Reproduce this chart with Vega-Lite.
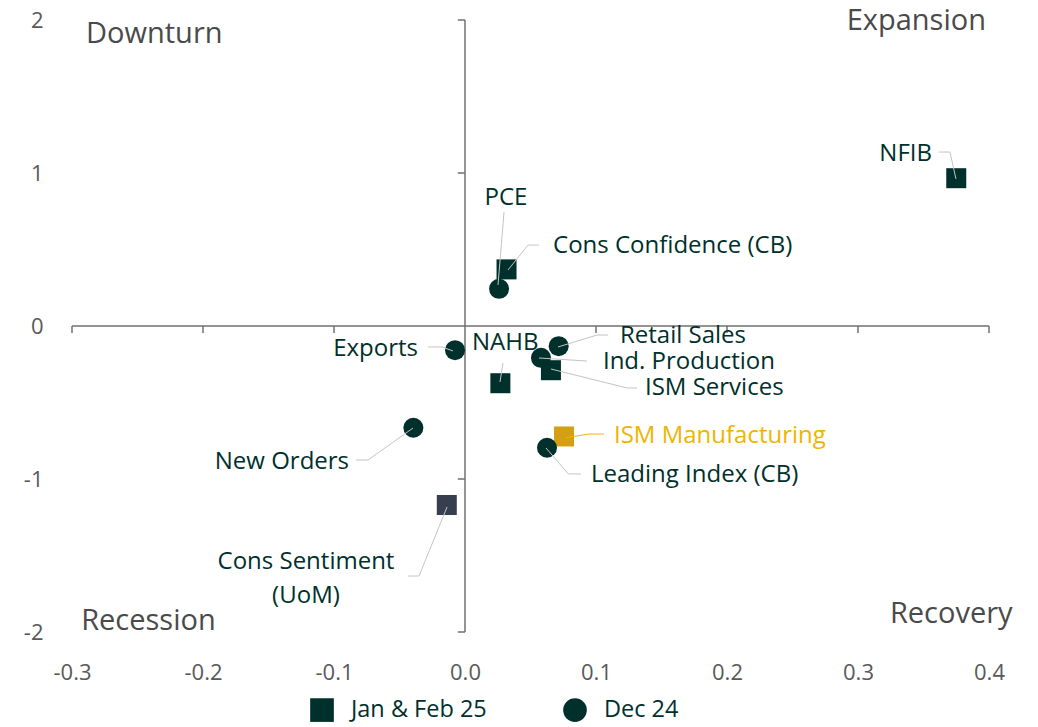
{
  "$schema": "https://vega.github.io/schema/vega-lite/v6.json",
  "width": 917,
  "height": 612,
  "autosize": {"type": "none"},
  "padding": {"left": 72, "top": 20, "right": 49, "bottom": 95},
  "background": "white",
  "config": {
    "view": {"stroke": null},
    "font": "Open Sans"
  },
  "datasets": {
    "points": [
      {"name": "NFIB", "label": "NFIB", "period": "Jan & Feb 25", "x": 0.375, "y": 0.966, "lx": 0.3565, "ly": 1.124},
      {"name": "Cons Confidence (CB)", "label": "Cons Confidence (CB)", "period": "Jan & Feb 25", "x": 0.0317, "y": 0.37, "lx": 0.0672, "ly": 0.523},
      {"name": "NAHB", "label": "NAHB", "period": "Jan & Feb 25", "x": 0.027, "y": -0.374, "lx": 0.0053, "ly": -0.111},
      {"name": "ISM Services", "label": "ISM Services", "period": "Jan & Feb 25", "x": 0.0656, "y": -0.289, "lx": 0.1374, "ly": -0.405},
      {"name": "ISM Manufacturing", "label": "ISM Manufacturing", "period": "Jan & Feb 25", "x": 0.0756, "y": -0.722, "lx": 0.1137, "ly": -0.719},
      {"name": "Cons Sentiment (UoM)", "label": "Cons Sentiment\n(UoM)", "period": "Jan & Feb 25", "x": -0.0139, "y": -1.17, "lx": -0.1214, "ly": -1.542},
      {"name": "PCE", "label": "PCE", "period": "Dec 24", "x": 0.026, "y": 0.243, "lx": 0.0313, "ly": 0.837},
      {"name": "Exports", "label": "Exports", "period": "Dec 24", "x": -0.0076, "y": -0.158, "lx": -0.0359, "ly": -0.15},
      {"name": "Retail Sales", "label": "Retail Sales", "period": "Dec 24", "x": 0.0715, "y": -0.132, "lx": 0.1183, "ly": -0.068},
      {"name": "Ind. Production", "label": "Ind. Production", "period": "Dec 24", "x": 0.058, "y": -0.208, "lx": 0.1053, "ly": -0.235},
      {"name": "Leading Index (CB)", "label": "Leading Index (CB)", "period": "Dec 24", "x": 0.0626, "y": -0.796, "lx": 0.0962, "ly": -0.974},
      {"name": "New Orders", "label": "New Orders", "period": "Dec 24", "x": -0.0394, "y": -0.665, "lx": -0.0885, "ly": -0.889}
    ],
    "leaders": [
      {"name": "NFIB", "x": 0.3618, "y": 1.137, "x2": 0.3702, "y2": 1.137},
      {"name": "NFIB", "x": 0.3702, "y": 1.137, "x2": 0.3748, "y2": 0.961},
      {"name": "PCE", "x": 0.0298, "y": 0.745, "x2": 0.0252, "y2": 0.268},
      {"name": "Cons Confidence (CB)", "x": 0.0328, "y": 0.366, "x2": 0.0481, "y2": 0.529},
      {"name": "Cons Confidence (CB)", "x": 0.0481, "y": 0.529, "x2": 0.0565, "y2": 0.529},
      {"name": "Exports", "x": -0.0282, "y": -0.137, "x2": -0.0176, "y2": -0.137},
      {"name": "Exports", "x": -0.0176, "y": -0.137, "x2": -0.0092, "y2": -0.163},
      {"name": "NAHB", "x": 0.029, "y": -0.242, "x2": 0.0267, "y2": -0.366},
      {"name": "Retail Sales", "x": 0.071, "y": -0.137, "x2": 0.1008, "y2": -0.059},
      {"name": "Retail Sales", "x": 0.1008, "y": -0.059, "x2": 0.1092, "y2": -0.059},
      {"name": "Ind. Production", "x": 0.0565, "y": -0.209, "x2": 0.0931, "y2": -0.229},
      {"name": "ISM Services", "x": 0.0656, "y": -0.281, "x2": 0.1237, "y2": -0.405},
      {"name": "ISM Services", "x": 0.1237, "y": -0.405, "x2": 0.1313, "y2": -0.405},
      {"name": "ISM Manufacturing", "x": 0.0771, "y": -0.73, "x2": 0.0947, "y2": -0.706},
      {"name": "ISM Manufacturing", "x": 0.0947, "y": -0.706, "x2": 0.1061, "y2": -0.706},
      {"name": "Leading Index (CB)", "x": 0.0618, "y": -0.797, "x2": 0.0789, "y2": -0.967},
      {"name": "Leading Index (CB)", "x": 0.0789, "y": -0.967, "x2": 0.0885, "y2": -0.967},
      {"name": "New Orders", "x": -0.0397, "y": -0.667, "x2": -0.074, "y2": -0.876},
      {"name": "New Orders", "x": -0.074, "y": -0.876, "x2": -0.0832, "y2": -0.876},
      {"name": "Cons Sentiment (UoM)", "x": -0.0137, "y": -1.183, "x2": -0.0351, "y2": -1.634},
      {"name": "Cons Sentiment (UoM)", "x": -0.0351, "y": -1.634, "x2": -0.0435, "y2": -1.634}
    ],
    "quadrants": [
      {"text": "Downturn", "x": -0.2893, "y": 1.908},
      {"text": "Recession", "x": -0.293, "y": -1.928},
      {"text": "Expansion", "x": 0.3977, "y": 1.993},
      {"text": "Recovery", "x": 0.418, "y": -1.882}
    ],
    "xticks": [{"v": -0.3}, {"v": -0.2}, {"v": -0.1}, {"v": 0.1}, {"v": 0.2}, {"v": 0.3}, {"v": 0.4}],
    "yticks": [{"v": -2}, {"v": -1}, {"v": 1}, {"v": 2}]
  },
  "layer": [
    {
      "data": {"values": [{}]},
      "mark": {"type": "rule", "color": "#707070", "strokeWidth": 1.5},
      "encoding": {
        "x": {"datum": -0.3, "type": "quantitative", "scale": {"domain": [-0.3, 0.4], "nice": false, "zero": false},
          "axis": {"title": null, "values": [-0.3, -0.2, -0.1, 0, 0.1, 0.2, 0.3, 0.4], "format": ".1f", "labelExpr": "replace(datum.label, '\u2212', '-')", "labelFlush": false, "grid": false, "domain": false, "ticks": false, "labelPadding": 30, "labelFont": "Open Sans", "labelFontSize": 22, "labelColor": "#595959"}},
        "x2": {"datum": 0.4},
        "y": {"datum": 0, "type": "quantitative", "scale": {"domain": [-2, 2], "nice": false, "zero": false},
          "axis": {"title": null, "values": [-2, -1, 0, 1, 2], "format": "d", "labelExpr": "replace(datum.label, '\u2212', '-')", "labelFlush": false, "grid": false, "domain": false, "ticks": false, "labelPadding": 29, "labelFont": "Open Sans", "labelFontSize": 22, "labelColor": "#595959"}}
      }
    },
    {
      "data": {"values": [{}]},
      "mark": {"type": "rule", "color": "#707070", "strokeWidth": 1.5},
      "encoding": {
        "x": {"datum": 0, "type": "quantitative"},
        "y": {"datum": -2, "type": "quantitative"},
        "y2": {"datum": 2}
      }
    },
    {
      "data": {"name": "xticks"},
      "mark": {"type": "rule", "color": "#707070", "strokeWidth": 1.5},
      "encoding": {
        "x": {"field": "v", "type": "quantitative"},
        "y": {"datum": 0, "type": "quantitative"},
        "y2": {"datum": -0.046}
      }
    },
    {
      "data": {"name": "yticks"},
      "mark": {"type": "rule", "color": "#707070", "strokeWidth": 1.5},
      "encoding": {
        "y": {"field": "v", "type": "quantitative"},
        "x": {"datum": 0, "type": "quantitative"},
        "x2": {"datum": -0.0055}
      }
    },
    {
      "data": {"name": "points"},
      "mark": {"type": "point", "filled": true, "opacity": 1, "strokeWidth": 0},
      "encoding": {
        "x": {"field": "x", "type": "quantitative"},
        "y": {"field": "y", "type": "quantitative"},
        "shape": {
          "field": "period", "type": "nominal",
          "scale": {"domain": ["Jan & Feb 25", "Dec 24"], "range": ["square", "circle"]},
          "legend": {
            "title": null, "orient": "none", "direction": "horizontal", "legendX": 238, "legendY": 678,
            "padding": 0, "symbolSize": 560, "symbolFillColor": "#00302b", "symbolStrokeWidth": 0,
            "labelFont": "Open Sans", "labelFontSize": 23.5, "labelColor": "#00302b", "labelOffset": 17, "columnPadding": 76
          }
        },
        "size": {"value": 400},
        "color": {
          "condition": [
            {"test": "datum.name === 'ISM Manufacturing'", "value": "#d49f12"},
            {"test": "datum.name === 'Cons Sentiment (UoM)'", "value": "#373f4f"}
          ],
          "value": "#00302b"
        }
      }
    },
    {
      "data": {"name": "leaders"},
      "mark": {"type": "rule", "strokeWidth": 1},
      "encoding": {
        "x": {"field": "x", "type": "quantitative"},
        "y": {"field": "y", "type": "quantitative"},
        "x2": {"field": "x2"},
        "y2": {"field": "y2"},
        "color": {"condition": {"test": "datum.name === 'ISM Manufacturing'", "value": "#f0b400"}, "value": "#c4c4c4"}
      }
    },
    {
      "data": {"name": "points"},
      "transform": [{"filter": {"field": "name", "oneOf": ["Cons Confidence (CB)", "NAHB", "Retail Sales", "Ind. Production", "ISM Services", "ISM Manufacturing", "Leading Index (CB)"]}}],
      "mark": {"type": "text", "align": "left", "baseline": "middle", "fontSize": 24, "font": "Open Sans"},
      "encoding": {
        "x": {"field": "lx", "type": "quantitative"},
        "y": {"field": "ly", "type": "quantitative"},
        "text": {"field": "label"},
        "color": {"condition": {"test": "datum.name === 'ISM Manufacturing'", "value": "#f0b400"}, "value": "#00302b"}
      }
    },
    {
      "data": {"name": "points"},
      "transform": [{"filter": {"field": "name", "oneOf": ["NFIB", "Exports", "New Orders"]}}],
      "mark": {"type": "text", "align": "right", "baseline": "middle", "fontSize": 24, "font": "Open Sans", "color": "#00302b"},
      "encoding": {
        "x": {"field": "lx", "type": "quantitative"},
        "y": {"field": "ly", "type": "quantitative"},
        "text": {"field": "label"}
      }
    },
    {
      "data": {"name": "points"},
      "transform": [{"filter": {"field": "name", "oneOf": ["PCE", "Cons Sentiment (UoM)"]}}],
      "mark": {"type": "text", "align": "center", "baseline": "middle", "fontSize": 24, "font": "Open Sans", "color": "#00302b", "lineBreak": "\n", "lineHeight": 34},
      "encoding": {
        "x": {"field": "lx", "type": "quantitative"},
        "y": {"field": "ly", "type": "quantitative"},
        "text": {"field": "label"}
      }
    },
    {
      "data": {"name": "quadrants"},
      "transform": [{"filter": {"field": "text", "oneOf": ["Downturn", "Recession"]}}],
      "mark": {"type": "text", "align": "left", "baseline": "middle", "fontSize": 29, "font": "Open Sans", "color": "#4a4a4a"},
      "encoding": {
        "x": {"field": "x", "type": "quantitative"},
        "y": {"field": "y", "type": "quantitative"},
        "text": {"field": "text"}
      }
    },
    {
      "data": {"name": "quadrants"},
      "transform": [{"filter": {"field": "text", "oneOf": ["Expansion", "Recovery"]}}],
      "mark": {"type": "text", "align": "right", "baseline": "middle", "fontSize": 29, "font": "Open Sans", "color": "#4a4a4a"},
      "encoding": {
        "x": {"field": "x", "type": "quantitative"},
        "y": {"field": "y", "type": "quantitative"},
        "text": {"field": "text"}
      }
    }
  ]
}
